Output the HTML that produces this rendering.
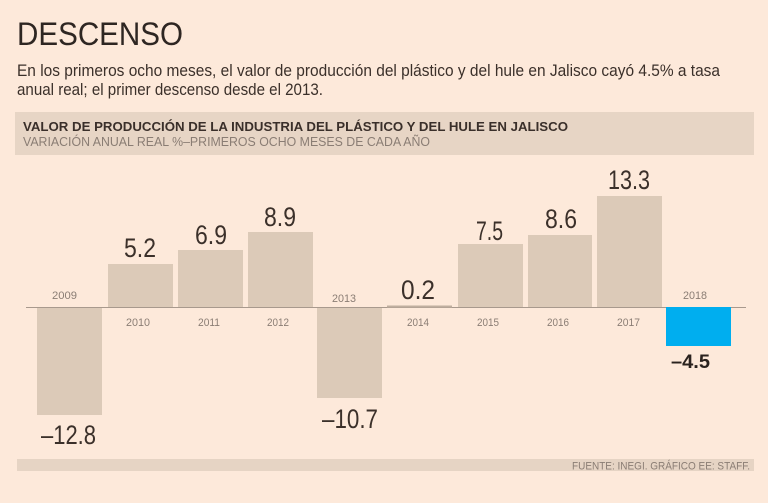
<!DOCTYPE html>
<html><head><meta charset="utf-8"><style>
html,body{margin:0;padding:0;background:#fde9da;}
svg{display:block;}
text{font-family:"Liberation Sans",sans-serif;}
</style></head><body>
<svg width="768" height="503" viewBox="0 0 768 503" xmlns="http://www.w3.org/2000/svg">
<rect width="768" height="503" fill="#fde9da"/>
<text x="17" y="45" font-size="32" fill="#2e2622" textLength="166" lengthAdjust="spacingAndGlyphs">DESCENSO</text>
<text x="17" y="76" font-size="16.5" fill="#3b302a" textLength="703" lengthAdjust="spacingAndGlyphs">En los primeros ocho meses, el valor de producción del plástico y del hule en Jalisco cayó 4.5% a tasa</text>
<text x="17" y="95" font-size="16.5" fill="#3b302a" textLength="306" lengthAdjust="spacingAndGlyphs">anual real; el primer descenso desde el 2013.</text>
<rect x="15" y="112" width="739" height="43" fill="#e7d5c5"/>
<text x="23" y="131" font-size="12.5" font-weight="bold" fill="#3a2f2a" textLength="545" lengthAdjust="spacingAndGlyphs">VALOR DE PRODUCCIÓN DE LA INDUSTRIA DEL PLÁSTICO Y DEL HULE EN JALISCO</text>
<text x="23" y="146" font-size="12.5" fill="#8a7d74" textLength="407" lengthAdjust="spacingAndGlyphs">VARIACIÓN ANUAL REAL %–PRIMEROS OCHO MESES DE CADA AÑO</text>
<g fill="#dccab8">
<rect x="37" y="307" width="65" height="108"/>
<rect x="108" y="264" width="65" height="43"/>
<rect x="178" y="250" width="65" height="57"/>
<rect x="248" y="232" width="65" height="75"/>
<rect x="317" y="307" width="65" height="91"/>
<rect x="458" y="244" width="65" height="63"/>
<rect x="528" y="235" width="64" height="72"/>
<rect x="597" y="196" width="65" height="111"/>
</g>
<line x1="26" y1="307.5" x2="746" y2="307.5" stroke="#a8998d" stroke-width="1"/>
<rect x="387" y="305.5" width="65" height="2" fill="#bfae9f"/>
<rect x="666" y="307" width="65" height="39" fill="#00aeef"/>
<g fill="#3b302a" font-size="27">
<text x="124" y="257" textLength="32" lengthAdjust="spacingAndGlyphs">5.2</text>
<text x="195" y="244" textLength="32" lengthAdjust="spacingAndGlyphs">6.9</text>
<text x="264" y="226" textLength="32" lengthAdjust="spacingAndGlyphs">8.9</text>
<text x="401" y="299" textLength="34" lengthAdjust="spacingAndGlyphs">0.2</text>
<text x="476" y="240" textLength="27" lengthAdjust="spacingAndGlyphs">7.5</text>
<text x="545" y="228" textLength="32" lengthAdjust="spacingAndGlyphs">8.6</text>
<text x="608" y="189" textLength="42" lengthAdjust="spacingAndGlyphs">13.3</text>
<text x="41" y="444" textLength="55" lengthAdjust="spacingAndGlyphs">–12.8</text>
<text x="322" y="428" textLength="56" lengthAdjust="spacingAndGlyphs">–10.7</text>
</g>
<text x="671" y="368" font-size="19" font-weight="bold" fill="#2a221e" textLength="39" lengthAdjust="spacingAndGlyphs">–4.5</text>
<g fill="#8a7d74" font-size="11">
<text x="52" y="299" textLength="25" lengthAdjust="spacingAndGlyphs">2009</text>
<text x="126" y="326" textLength="24" lengthAdjust="spacingAndGlyphs">2010</text>
<text x="198" y="326" textLength="22" lengthAdjust="spacingAndGlyphs">2011</text>
<text x="267" y="326" textLength="22" lengthAdjust="spacingAndGlyphs">2012</text>
<text x="332" y="302" textLength="24" lengthAdjust="spacingAndGlyphs">2013</text>
<text x="407" y="326" textLength="22" lengthAdjust="spacingAndGlyphs">2014</text>
<text x="477" y="326" textLength="22" lengthAdjust="spacingAndGlyphs">2015</text>
<text x="547" y="326" textLength="22" lengthAdjust="spacingAndGlyphs">2016</text>
<text x="617" y="326" textLength="23" lengthAdjust="spacingAndGlyphs">2017</text>
<text x="683" y="299" textLength="24" lengthAdjust="spacingAndGlyphs">2018</text>
</g>
<rect x="17" y="459" width="737" height="12" fill="#e6d4c4"/>
<text x="572" y="469.5" font-size="11" fill="#8a7d74" textLength="178" lengthAdjust="spacingAndGlyphs">FUENTE: INEGI. GRÁFICO EE: STAFF.</text>
</svg>
</body></html>
